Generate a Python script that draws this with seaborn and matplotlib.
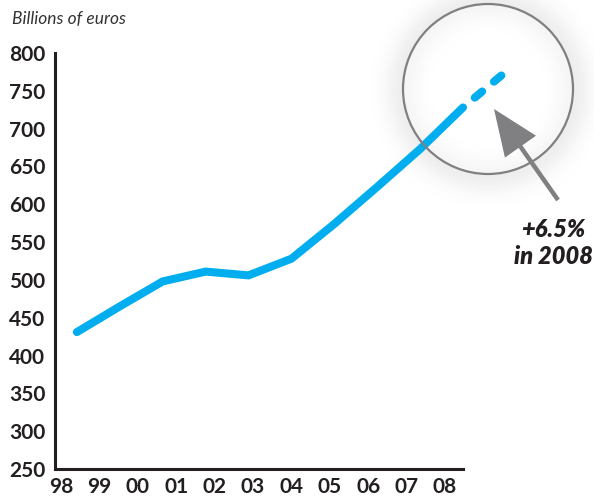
import numpy as np
import pandas as pd
import matplotlib
matplotlib.use("Agg")
import matplotlib.pyplot as plt
from matplotlib.patches import Circle, FancyArrow
import seaborn as sns

# Yearly totals, billions of euros
years = ["98", "99", "00", "01", "02", "03", "04", "05", "06", "07", "08"]
values = [431, 465, 498, 511, 506, 528, 574, 623, 673, 728]
growth_2008 = 0.065
values.append(round(values[-1] * (1 + growth_2008), 1))
y_ticks = [250, 300, 350, 400, 450, 500, 550, 600, 650, 700, 750, 800]

df = pd.DataFrame({"x": np.arange(len(years)), "value": values})

sns.set_theme(style="white")
plt.rcParams["font.family"] = ["Lato", "DejaVu Sans"]

W, H, DPI = 594, 497, 100
fig = plt.figure(figsize=(W / DPI, H / DPI), dpi=DPI)
ax = fig.add_axes([55 / W, 1 - 469 / H, (463 - 55) / W, (469 - 53) / H])

ink = "#231f20"
cyan = "#00aeef"
grey = "#808083"

# soft halo around the highlight ring (drawn first, behind everything)
halo_ax = fig.add_axes([0, 0, 1, 1], zorder=-1)
halo_ax.set_axis_off()
cx, cy, r = 488, 89, 85
yy, xx = np.mgrid[0:H, 0:W]
d = np.hypot(xx - cx, yy - cy)
alpha = np.where(d > r,
                 0.15 * np.exp(-((d - r) / 18.0) ** 2),
                 0.08 * np.exp(-((r - d) / 16.0) ** 2))
rgba = np.zeros((H, W, 4))
rgba[..., :3] = 0.55
rgba[..., 3] = alpha
halo_ax.imshow(rgba, extent=[0, W, H, 0], interpolation="bilinear")
halo_ax.set_xlim(0, W)
halo_ax.set_ylim(H, 0)

ax.set_facecolor("none")
fig.patch.set_facecolor("white")

# solid history, dashed final year
solid = df.iloc[:-1]
last = df.iloc[-2:]
sns.lineplot(data=solid, x="x", y="value", ax=ax, color=cyan, linewidth=5.8,
             solid_capstyle="round", solid_joinstyle="miter", clip_on=False, zorder=4)
sns.lineplot(data=last, x="x", y="value", ax=ax, color=cyan, linewidth=5.8,
             linestyle=(1.2, (1.2, 1.9)), dash_capstyle="round", clip_on=False, zorder=4)

ax.set_xlim(-0.51, 9.0)
ax.set_ylim(250, 800)
ax.set_yticks(y_ticks)
ax.set_yticklabels([str(t) for t in y_ticks])
ax.set_xticks(np.linspace(-0.37, 8.58, len(years)))
ax.set_xticklabels(years)
ax.set_xlabel("")
ax.set_ylabel("")
ax.tick_params(axis="both", length=0, labelsize=15, colors=ink)
ax.tick_params(axis="y", pad=7)
ax.tick_params(axis="x", pad=6)
for lab in ax.get_xticklabels() + ax.get_yticklabels():
    lab.set_fontweight("bold")

for side in ["top", "right"]:
    ax.spines[side].set_visible(False)
for side in ["left", "bottom"]:
    ax.spines[side].set_color(ink)
    ax.spines[side].set_linewidth(2.2)
    ax.spines[side].set_capstyle("projecting")

fig.text(12 / W, 1 - 19 / H, "Billions of euros", fontsize=12.5, style="italic",
         color="#333333", va="center", ha="left")

# highlight ring and arrow, placed in inches on the figure
tr = fig.dpi_scale_trans
ring = Circle((cx / DPI, (H - cy) / DPI), r / DPI, transform=tr, fill=False,
              edgecolor=grey, linewidth=1.6, zorder=5)
fig.patches.append(ring)
tail = (558 / DPI, (H - 200) / DPI)
tip = (494 / DPI, (H - 109) / DPI)
arrow = FancyArrow(tail[0], tail[1], tip[0] - tail[0], tip[1] - tail[1],
                   width=0.045, head_width=0.38, head_length=0.46,
                   length_includes_head=True, transform=tr,
                   facecolor=grey, edgecolor="none", zorder=5)
fig.patches.append(arrow)

fig.text(553 / W, 1 - 243 / H, f"+{growth_2008 * 100:.1f}%\nin 2008",
         fontsize=17, fontweight="heavy", style="italic", color=ink,
         ha="center", va="center", linespacing=1.2)

fig.savefig("out.png", dpi=DPI)
